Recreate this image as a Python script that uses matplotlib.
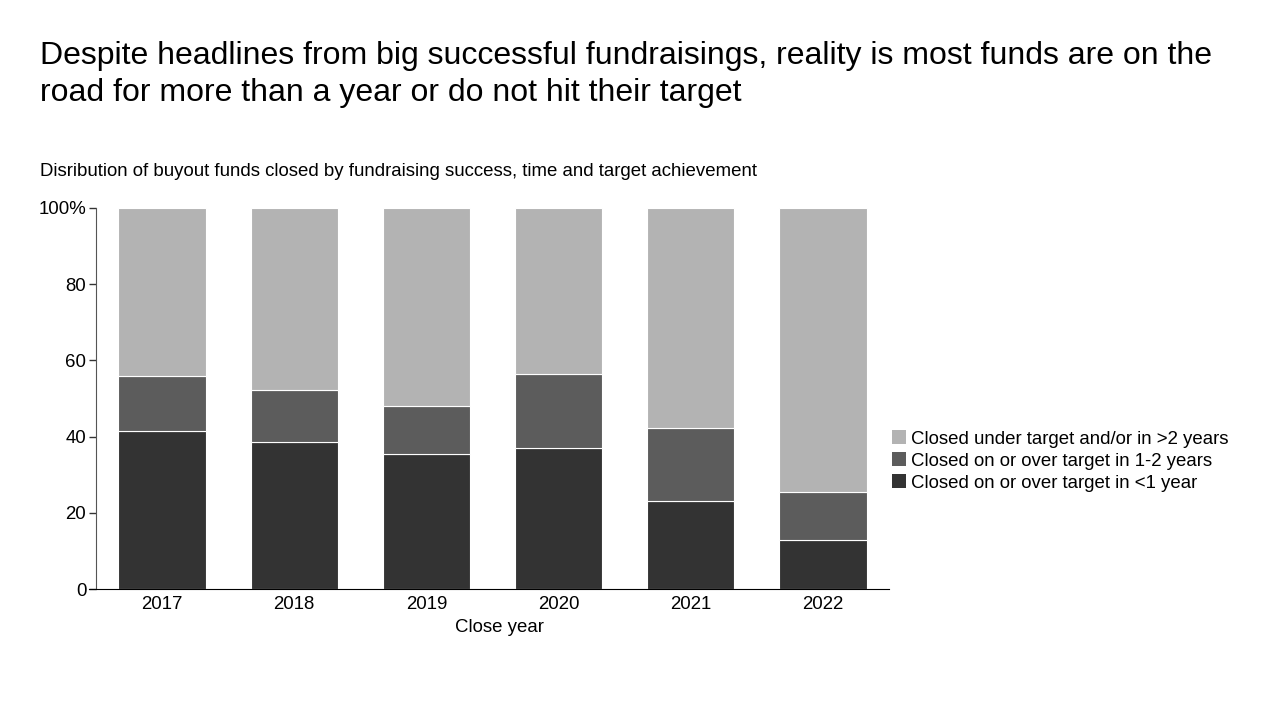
import numpy as np
import matplotlib
matplotlib.use("Agg")
import matplotlib.pyplot as plt
from matplotlib.patches import Patch

plt.rcParams['font.family'] = ['Liberation Sans', 'DejaVu Sans']

years = ['2017', '2018', '2019', '2020', '2021', '2022']
under_1yr = [41.5, 38.6, 35.4, 37.0, 23.1, 12.9]
one_two_yr = [14.4, 13.6, 12.6, 19.4, 19.2, 12.6]
over_2yr = [100 - a - b for a, b in zip(under_1yr, one_two_yr)]

series_names = ['Closed on or over target in <1 year',
                'Closed on or over target in 1-2 years',
                'Closed under target and/or in >2 years']
colors = ['#333333', '#5c5c5c', '#b3b3b3']

fs = 13.4

fig = plt.figure(figsize=(12.8, 7.2), dpi=100)
ax = fig.add_axes([96 / 1280, 1 - 589 / 720, (889 - 96) / 1280, (589 - 208) / 720])

x = np.arange(len(years))
bottom = np.zeros(len(years))
for vals, col in zip([under_1yr, one_two_yr, over_2yr], colors):
    ax.bar(x, vals, width=0.66, bottom=bottom, color=col, edgecolor='white', linewidth=0.8)
    bottom += np.array(vals)

ax.set_xlim(-0.5, 5.5)
ax.set_ylim(0, 100)
ax.set_xticks(x)
ax.set_xticklabels(years, fontsize=fs)
ax.set_yticks([0, 20, 40, 60, 80, 100])
ax.set_yticklabels(['0', '20', '40', '60', '80', '100%'], fontsize=fs)
ax.tick_params(axis='x', length=0, pad=5)
ax.tick_params(axis='y', length=5, width=1, pad=2, color='#333333')
ax.spines['top'].set_visible(False)
ax.spines['right'].set_visible(False)
ax.spines['left'].set_color('#555555')
ax.spines['bottom'].set_color('black')
ax.spines['bottom'].set_bounds(-0.55, 5.5)
ax.set_xlabel('Close year', fontsize=fs)
ax.xaxis.set_label_coords(0.509, -0.102)
ax.xaxis.label.set_va('center')

handles = [Patch(facecolor=c, label=n) for c, n in zip(colors, series_names)][::-1]
fig.legend(handles=handles, loc='center left', bbox_to_anchor=(885 / 1280, 1 - 461 / 720),
           frameon=False, fontsize=fs, handlelength=0.75, handleheight=0.75,
           handletextpad=0.25, labelspacing=0.25, borderaxespad=0)

fig.text(40 / 1280, 1 - 41 / 720,
         'Despite headlines from big successful fundraisings, reality is most funds are on the\n'
         'road for more than a year or do not hit their target',
         fontsize=23.0, va='top', ha='left', linespacing=1.32)
fig.text(40 / 1280, 1 - 172 / 720,
         'Disribution of buyout funds closed by fundraising success, time and target achievement',
         fontsize=fs, va='center', ha='left')

fig.savefig('out.png', dpi=100)
